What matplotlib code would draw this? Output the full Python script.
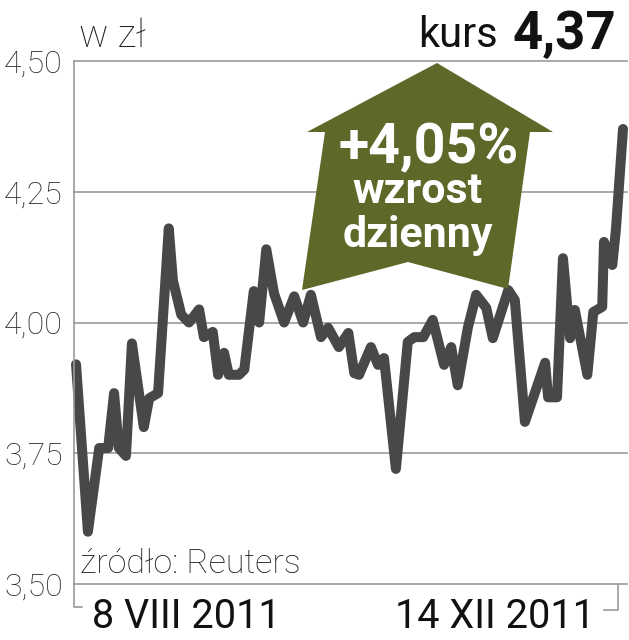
import matplotlib
matplotlib.use("Agg")
import matplotlib.pyplot as plt
from matplotlib.patches import Polygon
from matplotlib.lines import Line2D

# kurs w zł, 8 VIII 2011 - 14 XII 2011 (sesje, punkty zwrotne wykresu)
day = [0, 2.0, 3.9, 5.4, 6.4, 7.2, 8.4, 9.4, 11.4, 12.3, 13.8, 15.6, 16.3, 17.7,
       19.0, 20.7, 21.5, 23.0, 23.9, 24.9, 25.7, 27.4, 28.3, 29.9, 30.8, 32.0,
       33.3, 35.0, 36.7, 38.2, 39.5, 41.2, 42.4, 44.2, 45.8, 46.8, 47.6, 49.6,
       50.8, 51.8, 53.8, 55.8, 56.9, 58.4, 60.0, 61.9, 63.1, 64.2, 65.9, 67.3,
       69.0, 70.1, 72.7, 73.8, 75.5, 78.9, 79.4, 80.9, 81.9, 83.1, 83.9, 86.0,
       87.0, 88.5, 88.8, 90.2, 90.8, 92.0]
kurs = [3.92, 3.60, 3.76, 3.76, 3.865, 3.76, 3.745, 3.96, 3.80, 3.855, 3.865,
        4.18, 4.08, 4.015, 4.00, 4.025, 3.972, 3.982, 3.90, 3.942, 3.90, 3.90,
        3.91, 4.06, 4.00, 4.14, 4.056, 4.00, 4.05, 4.00, 4.053, 3.972, 3.99,
        3.953, 3.98, 3.903, 3.90, 3.953, 3.919, 3.932, 3.72, 3.963, 3.972,
        3.972, 4.005, 3.919, 3.953, 3.88, 3.99, 4.053, 4.028, 3.97, 4.062,
        4.043, 3.81, 3.923, 3.857, 3.857, 4.123, 3.97, 4.024, 3.90, 4.02,
        4.03, 4.154, 4.11, 4.177, 4.37]

yticks = [3.50, 3.75, 4.00, 4.25, 4.50]
ytick_labels = ["3,50", "3,75", "4,00", "4,25", "4,50"]
date_start = "8 VIII 2011"
date_end = "14 XII 2011"

W, H = 629, 640
LINE = "#474849"
GRID = "#9a9a9a"
OLIVE = "#5e6829"
FONT = "Roboto"


def px(x, y):
    return x / W, 1 - y / H


fig = plt.figure(figsize=(W / 100, H / 100), dpi=100)
ax = fig.add_axes([74 / W, 1 - 584 / H, 553 / W, 523 / H])
ax.set_xlim(-0.34, 92.67)
ax.set_ylim(3.5, 4.5)
for s in ax.spines.values():
    s.set_visible(False)

for v in yticks:
    ax.axhline(v, color=GRID, lw=1.2, zorder=1, clip_on=False)

ax.set_xticks([])
ax.set_yticks(yticks)
ax.set_yticklabels(ytick_labels, fontfamily=FONT, fontweight="light",
                   fontsize=23, color="#2a2a2a")
ax.tick_params(axis="y", length=0, pad=8)

ax.plot(day, kurs, color=LINE, lw=7.2, solid_joinstyle="round",
        solid_capstyle="round", zorder=5, clip_on=False)

# strzałka
arrow = [(437, 63), (553, 132), (530, 132), (508, 289), (408, 262),
         (302, 290), (325, 132), (307, 132)]
fig.patches.append(Polygon([px(*p) for p in arrow], closed=True,
                           transform=fig.transFigure, facecolor=OLIVE,
                           edgecolor="none", zorder=3))

fig.text(*px(429, 163), "+4,05%", ha="center", va="baseline", color="white",
         fontfamily=FONT, fontweight="bold", fontsize=40, zorder=6)
fig.text(*px(418, 203), "wzrost", ha="center", va="baseline", color="white",
         fontfamily=FONT, fontweight="bold", fontsize=31, zorder=6)
fig.text(*px(418, 247), "dzienny", ha="center", va="baseline", color="white",
         fontfamily=FONT, fontweight="bold", fontsize=31, zorder=6)

# osie / klamry
fig.lines.append(Line2D([74 / W, 74 / W, 82 / W],
                        [1 - 61 / H, 1 - 607 / H, 1 - 607 / H],
                        transform=fig.transFigure, color=GRID, lw=1.2))
fig.lines.append(Line2D([604 / W, 618 / W, 618 / W],
                        [1 - 610 / H, 1 - 610 / H, 1 - 584 / H],
                        transform=fig.transFigure, color=GRID, lw=1.2))

fig.text(*px(79, 47), "w zł", ha="left", va="baseline", fontfamily=FONT,
         fontweight="light", fontsize=28, color="#222222")
fig.text(*px(498, 47), "kurs", ha="right", va="baseline", fontfamily=FONT,
         fontweight="normal", fontsize=30, color="#111111")
fig.text(*px(616, 49), "4,37", ha="right", va="baseline", fontfamily=FONT,
         fontweight="bold", fontsize=38, color="#111111")
fig.text(*px(80, 573), "źródło: Reuters", ha="left", va="baseline",
         fontfamily=FONT, fontweight="light", fontsize=24.5, color="#222222")
fig.text(*px(92, 628), date_start, ha="left", va="baseline", fontfamily=FONT,
         fontsize=28.5, color="#111111")
fig.text(*px(595, 628), date_end, ha="right", va="baseline", fontfamily=FONT,
         fontsize=28.5, color="#111111")

fig.savefig("out.png", dpi=100, facecolor="white")
